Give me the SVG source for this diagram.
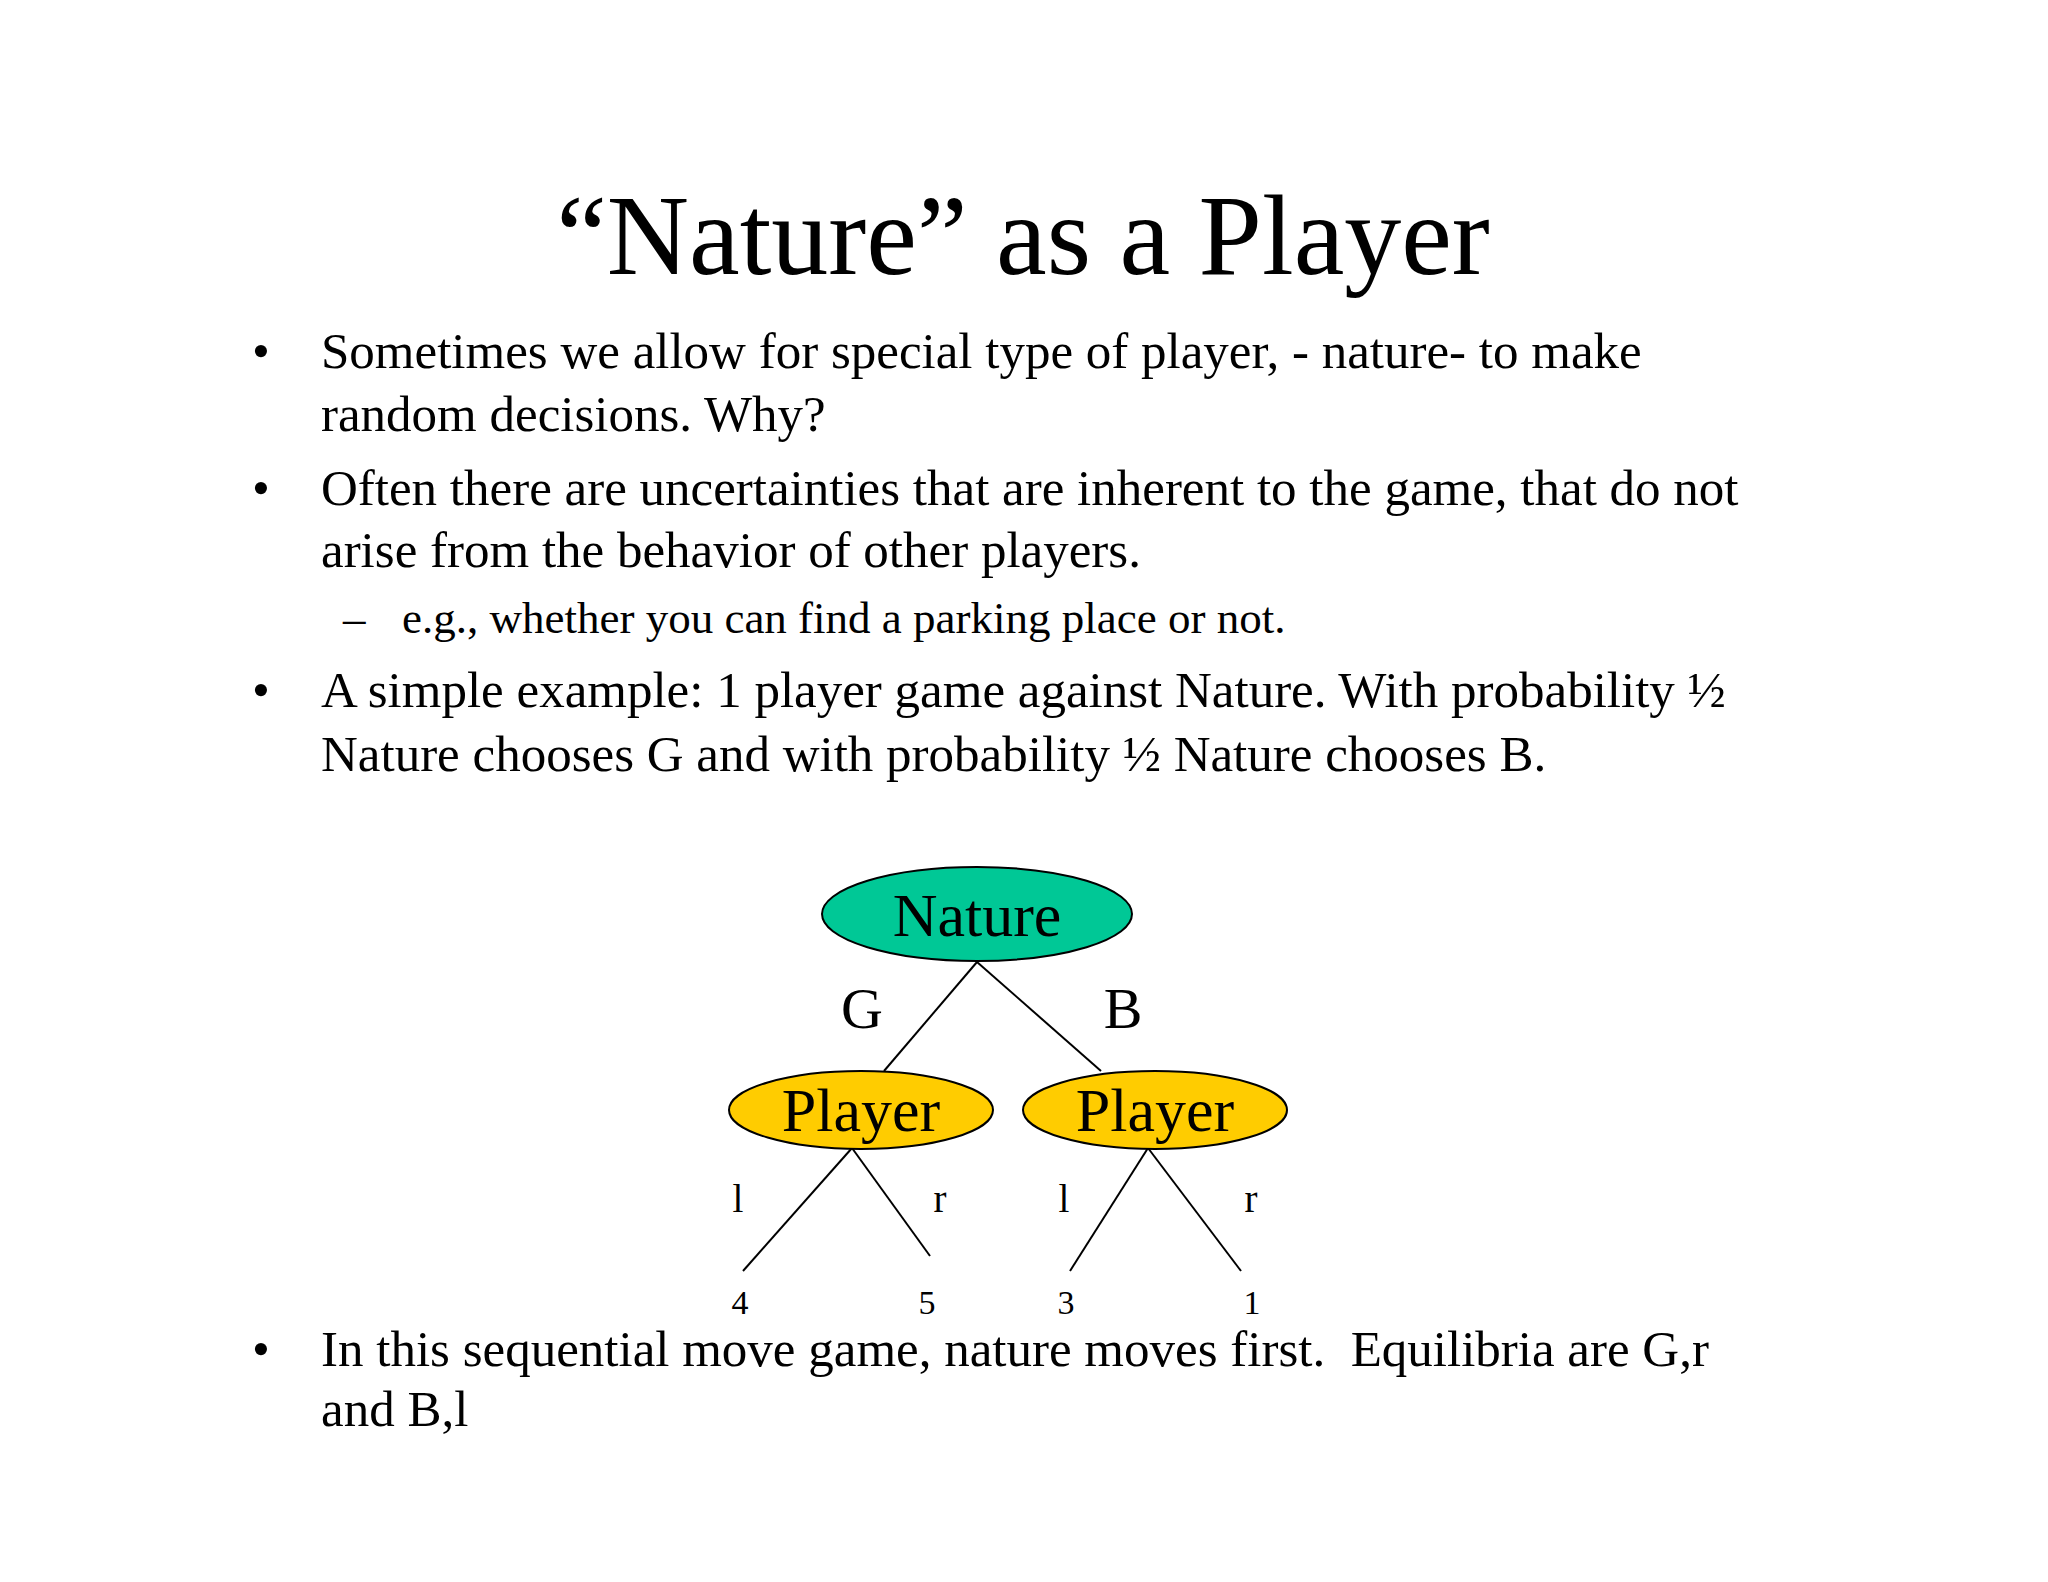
<svg xmlns="http://www.w3.org/2000/svg" width="2048" height="1582" viewBox="0 0 2048 1582">
<style>
text{font-family:"Liberation Serif","Times New Roman",serif;fill:#000}
.b{font-size:51px}
.s{font-size:45px}
.n{font-size:34px;text-anchor:middle}
.lab{font-size:39px;text-anchor:middle}
.node{stroke:#000;stroke-width:2}
line{stroke:#000;stroke-width:2}
</style>
<rect width="2048" height="1582" fill="#fff"/>
<text x="1023" y="274" font-size="114" text-anchor="middle">“Nature” as a Player</text>
<g class="b">
<text x="252" y="368">•</text><text x="321" y="368">Sometimes we allow for special type of player, - nature- to make</text>
<text x="321" y="431">random decisions. Why?</text>
<text x="252" y="505">•</text><text x="321" y="505">Often there are uncertainties that are inherent to the game, that do not</text>
<text x="321" y="567">arise from the behavior of other players.</text>
<text x="252" y="707">•</text><text x="321" y="707">A simple example: 1 player game against Nature. With probability ½</text>
<text x="321" y="771">Nature chooses G and with probability ½ Nature chooses B.</text>
<text x="252" y="1366">•</text><text x="321" y="1366" xml:space="preserve">In this sequential move game, nature moves first.  Equilibria are G,r</text>
<text x="321" y="1426">and B,l</text>
</g>
<text class="s" x="343" y="633">–</text><text class="s" x="402" y="633">e.g., whether you can find a parking place or not.</text>
<g id="connectors">
<line x1="977" y1="962" x2="884" y2="1071"/>
<line x1="977" y1="962" x2="1101" y2="1071"/>
<line x1="852" y1="1148" x2="743" y2="1271"/>
<line x1="852" y1="1148" x2="930" y2="1256"/>
<line x1="1148" y1="1148" x2="1070" y2="1271"/>
<line x1="1148" y1="1148" x2="1241" y2="1271"/>
</g>
<g id="nature"><ellipse class="node" cx="977" cy="914" rx="155" ry="47" fill="#00C896"/><text x="977" y="936" font-size="62" text-anchor="middle">Nature</text></g>
<g id="player1"><ellipse class="node" cx="861" cy="1110" rx="132" ry="39" fill="#FFCC00"/><text x="861" y="1131" font-size="62" text-anchor="middle">Player</text></g>
<g id="player2"><ellipse class="node" cx="1155" cy="1110" rx="132" ry="39" fill="#FFCC00"/><text x="1155" y="1131" font-size="62" text-anchor="middle">Player</text></g>
<text x="862" y="1028" font-size="58" text-anchor="middle">G</text>
<text x="1123" y="1028" font-size="58" text-anchor="middle">B</text>
<text class="lab" x="738" y="1212">l</text><text class="lab" x="940" y="1212">r</text>
<text class="lab" x="1064" y="1212">l</text><text class="lab" x="1251" y="1212">r</text>
<text class="n" x="740" y="1314">4</text><text class="n" x="927" y="1314">5</text>
<text class="n" x="1066" y="1314">3</text><text class="n" x="1252" y="1314">1</text>
</svg>
